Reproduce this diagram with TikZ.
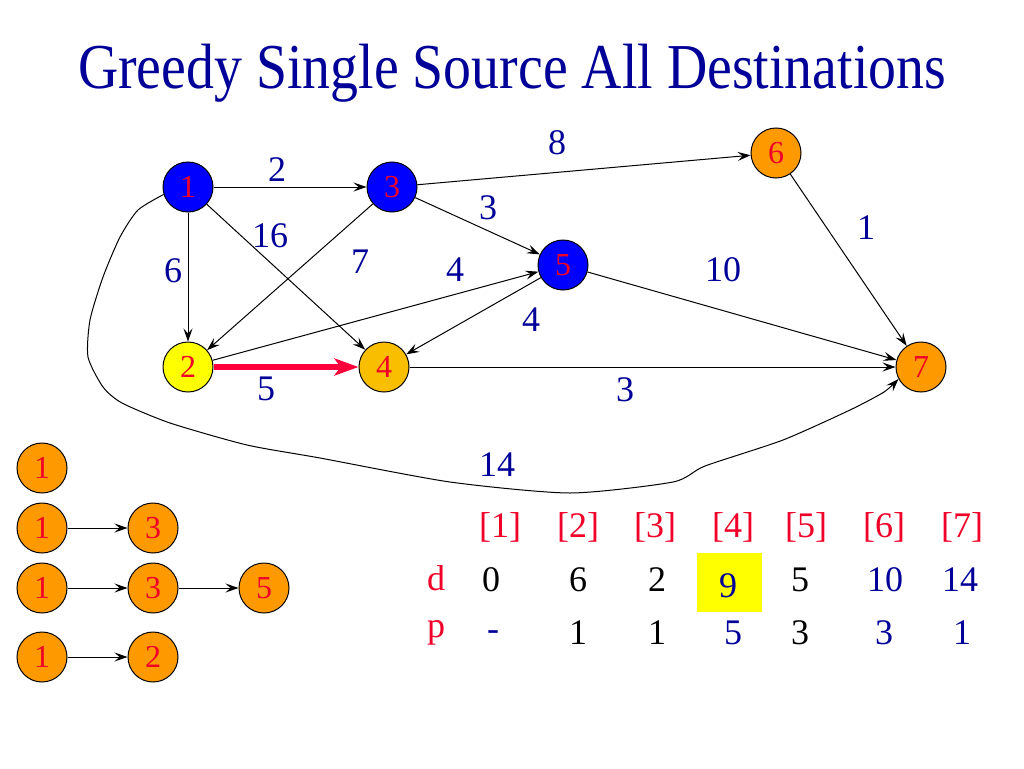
\documentclass[tikz,border=0pt]{standalone}
\usepackage{fontspec}
\setmainfont{Liberation Serif}
\usetikzlibrary{arrows.meta}
\definecolor{navy}{RGB}{0,0,153}
\definecolor{nred}{RGB}{240,0,40}
\definecolor{nblue}{RGB}{0,0,255}
\definecolor{norange}{RGB}{255,153,0}
\definecolor{ngold}{RGB}{250,190,0}
\definecolor{nyellow}{RGB}{255,255,0}
\definecolor{redarrow}{RGB}{255,0,60}
\begin{document}
\begin{tikzpicture}[x=1pt,y=-1pt,
  vtx/.style={circle,draw=black,line width=1pt,minimum size=50pt,inner sep=0pt,text=nred,font=\fontsize{32}{32}\selectfont},
  bluev/.style={vtx,fill=nblue},
  orv/.style={vtx,fill=norange},
  arr/.style={draw=black,line width=1pt,-{Stealth[length=13pt,width=9pt,inset=5pt]}},
  wlab/.style={text=navy,font=\fontsize{36}{36}\selectfont,inner sep=0pt},
  hdr/.style={text=nred,font=\fontsize{36}{36}\selectfont,inner sep=0pt},
  blk/.style={text=black,font=\fontsize{36}{36}\selectfont,inner sep=0pt},
]
\useasboundingbox (0,0) rectangle (1024,768);
\fill[white] (0,0) rectangle (1024,768);

% title
\node[text=navy,inner sep=0pt,anchor=base] (title) at (512,88)
  {\resizebox{868pt}{\height}{\fontsize{64}{70}\selectfont Greedy Single Source All Destinations}};

% graph vertices
\node[bluev] (n1) at (188,187) {1};
\node[bluev] (n3) at (392,187) {3};
\node[bluev] (n5) at (563,265) {5};
\node[orv]   (n6) at (776,153) {6};
\node[vtx,fill=nyellow] (n2) at (188,367) {2};
\node[vtx,fill=ngold]   (n4) at (384,367) {4};
\node[orv]   (n7) at (921,367) {7};

% edges
\draw[arr] (n1) -- (n3);
\draw[arr] (n1) -- (n2);
\draw[arr] (n1) -- (n4);
\draw[arr] (n3) -- (n2);
\draw[arr] (n3) -- (n5);
\draw[arr] (n3) -- (n6);
\draw[arr] (n2) -- (n5);
\draw[arr] (n5) -- (n4);
\draw[arr] (n5) -- (n7);
\draw[arr] (n4) -- (n7);
\draw[arr] (n6) -- (n7);
\draw[draw=redarrow,line width=5.5pt,-{Triangle[length=24pt,width=17pt,inset=6pt]}] (n2) -- (n4);
\draw[arr] plot[smooth,tension=0.4] coordinates {(n1.197) (138,210) (120,237) (103,277) (90,320) (88,357) (103,387) (122,403) (170,423) (247,445) (320,458) (450,482) (570,493) (673,482) (705,466) (783,440) (850,410) (884,392) (n7.208)};

% weights
\node[wlab] (w13) at (277,170) {2};
\node[wlab] (w36) at (557,143) {8};
\node[wlab] (w35) at (488,208) {3};
\node[wlab] (w14) at (270,236) {16};
\node[wlab] (w32) at (360,262) {7};
\node[wlab] (w12) at (173,271) {6};
\node[wlab] (w25) at (455,270) {4};
\node[wlab] (w54) at (531,320) {4};
\node[wlab] (w57) at (723,270) {10};
\node[wlab] (w67) at (866,228) {1};
\node[wlab] (w24) at (266,389) {5};
\node[wlab] (w47) at (625,390) {3};
\node[wlab] (w17) at (497,465) {14};

% left trees
\node[orv] (a1) at (42,468) {1};
\node[orv] (b1) at (42,528) {1};
\node[orv] (b3) at (153,528) {3};
\node[orv] (c1) at (42,588) {1};
\node[orv] (c3) at (153,588) {3};
\node[orv] (c5) at (264,588) {5};
\node[orv] (d1) at (42,657) {1};
\node[orv] (d2) at (153,657) {2};
\draw[arr] (b1) -- (b3);
\draw[arr] (c1) -- (c3);
\draw[arr] (c3) -- (c5);
\draw[arr] (d1) -- (d2);

% table
\node[hdr] (h1) at (500,527) {[1]};
\node[hdr] (h2) at (578,527) {[2]};
\node[hdr] (h3) at (655,527) {[3]};
\node[hdr] (h4) at (733,527) {[4]};
\node[hdr] (h5) at (806,527) {[5]};
\node[hdr] (h6) at (884,527) {[6]};
\node[hdr] (h7) at (962,527) {[7]};

\node[hdr] (dl) at (436,578) {d};
\node[blk] (d1v) at (491,580) {0};
\node[blk] (d2v) at (578,580) {6};
\node[blk] (d3v) at (657,580) {2};
\node[fill=nyellow,minimum width=65pt,minimum height=59pt,inner sep=0pt] (box) at (729.5,582.5) {};
\node[wlab] (d4v) at (728,586) {9};
\node[blk] (d5v) at (800,580) {5};
\node[wlab] (d6v) at (885,580) {10};
\node[wlab] (d7v) at (960,580) {14};

\node[hdr] (pl) at (436,633) {p};
\node[wlab] (p1v) at (493,636) {-};
\node[blk] (p2v) at (578,633) {1};
\node[blk] (p3v) at (657,633) {1};
\node[wlab] (p4v) at (733,633) {5};
\node[blk] (p5v) at (800,633) {3};
\node[wlab] (p6v) at (884,633) {3};
\node[wlab] (p7v) at (962,633) {1};
\end{tikzpicture}
\end{document}
